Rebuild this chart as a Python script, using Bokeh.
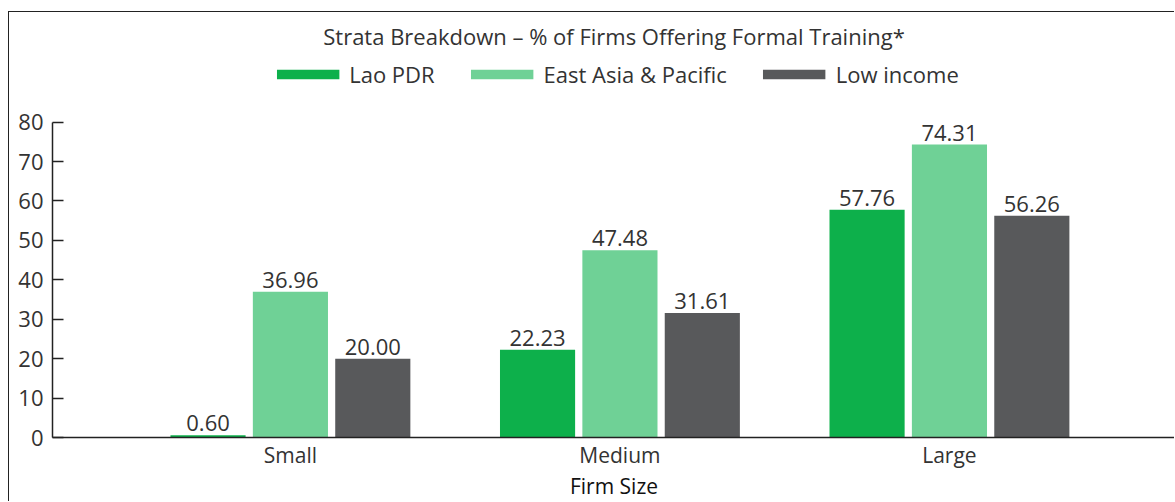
from bokeh.plotting import figure
from bokeh.models import (Range1d, FixedTicker, Legend, LegendItem,
                          ColumnDataSource, Title)
from bokeh.transform import dodge
from bokeh.core.properties import value
from bokeh.embed import file_html
from bokeh.resources import INLINE

# ---- data ----
categories = ["Small", "Medium", "Large"]
lao_pdr = [0.60, 22.23, 57.76]
east_asia_pacific = [36.96, 47.48, 74.31]
low_income = [20.00, 31.61, 56.26]
series_names = ["Lao PDR", "East Asia & Pacific", "Low income"]
y_ticks = [0, 10, 20, 30, 40, 50, 60, 70, 80]

FONT = "Open Sans"
TXT = "#333333"
colors = ["#0DB04B", "#6FD196", "#58595B"]

src = ColumnDataSource(dict(
    x=list(range(len(categories))),
    lao=lao_pdr, eap=east_asia_pacific, low=low_income,
    lao_t=[f"{v:.2f}" for v in lao_pdr],
    eap_t=[f"{v:.2f}" for v in east_asia_pacific],
    low_t=[f"{v:.2f}" for v in low_income],
))

X0, X1 = -0.722, 2.686
p = figure(width=1166, height=490, output_backend="svg", toolbar_location=None,
           x_range=Range1d(X0, X1), y_range=Range1d(0, 96.9),
           min_border_left=43, min_border_right=0, min_border_top=43, min_border_bottom=63)
p.styles = {"margin-left": "8px", "margin-top": "11px",
            "border-left": "1px solid #222", "border-top": "1px solid #222"}
p.outline_line_color = None
p.xgrid.visible = False
p.ygrid.visible = False
p.background_fill_color = "white"
p.border_fill_color = "white"

offsets = [-0.25, 0.0, 0.25]
fields = ["lao", "eap", "low"]
renderers = []
for f, off, c in zip(fields, offsets, colors):
    r = p.vbar(x=dodge("x", off, range=p.x_range), top=f, bottom=0, width=0.228,
               source=src, fill_color=c, line_color=None)
    renderers.append(r)
    p.text(x=dodge("x", off, range=p.x_range), y=f, text=f + "_t", source=src,
           text_align="center", text_baseline="bottom", y_offset=-4,
           text_font=value(FONT), text_font_size="22px", text_color=TXT)

# axes
xa = p.xaxis[0]
xa.ticker = FixedTicker(ticks=list(range(len(categories))))
xa.major_label_overrides = {i: c for i, c in enumerate(categories)}
xa.major_tick_line_color = None
xa.major_tick_out = 0
xa.major_tick_in = 0
xa.minor_tick_line_color = None
xa.minor_tick_out = 0
xa.axis_line_color = "#222222"
xa.axis_line_width = 1.5
xa.major_label_text_font = FONT
xa.major_label_text_font_size = "21px"
xa.major_label_text_color = TXT
xa.major_label_standoff = 3
xa.axis_label = "Firm Size"
xa.axis_label_text_font = FONT
xa.axis_label_text_font_size = "21px"
xa.axis_label_text_font_style = "normal"
xa.axis_label_text_color = "#111111"
xa.axis_label_standoff = 0

ya = p.yaxis[0]
ya.ticker = FixedTicker(ticks=y_ticks)
ya.bounds = (0, 80)
ya.minor_tick_line_color = None
ya.major_tick_in = 11
ya.major_tick_out = 0
ya.major_tick_line_color = "#222222"
ya.major_tick_line_width = 1.5
ya.axis_line_color = "#222222"
ya.axis_line_width = 1.5
ya.major_label_text_font = FONT
ya.major_label_text_font_size = "22px"
ya.major_label_text_color = TXT
ya.major_label_standoff = 9

legend = Legend(items=[LegendItem(label=n, renderers=[r]) for n, r in zip(series_names, renderers)],
                orientation="horizontal", location="top_center",
                glyph_width=78, glyph_height=12, label_standoff=3, spacing=28,
                padding=0, margin=4, border_line_color=None, background_fill_alpha=0,
                label_text_font=FONT, label_text_font_size="22px", label_text_color=TXT)
p.add_layout(legend, "center")

p.add_layout(Title(text="Strata Breakdown \u2013 % of Firms Offering Formal Training*",
                   align="center", text_font=FONT, text_font_size="22px",
                   text_font_style="normal", text_color=TXT), "above")

open("out.html", "w").write(file_html(p, INLINE))
